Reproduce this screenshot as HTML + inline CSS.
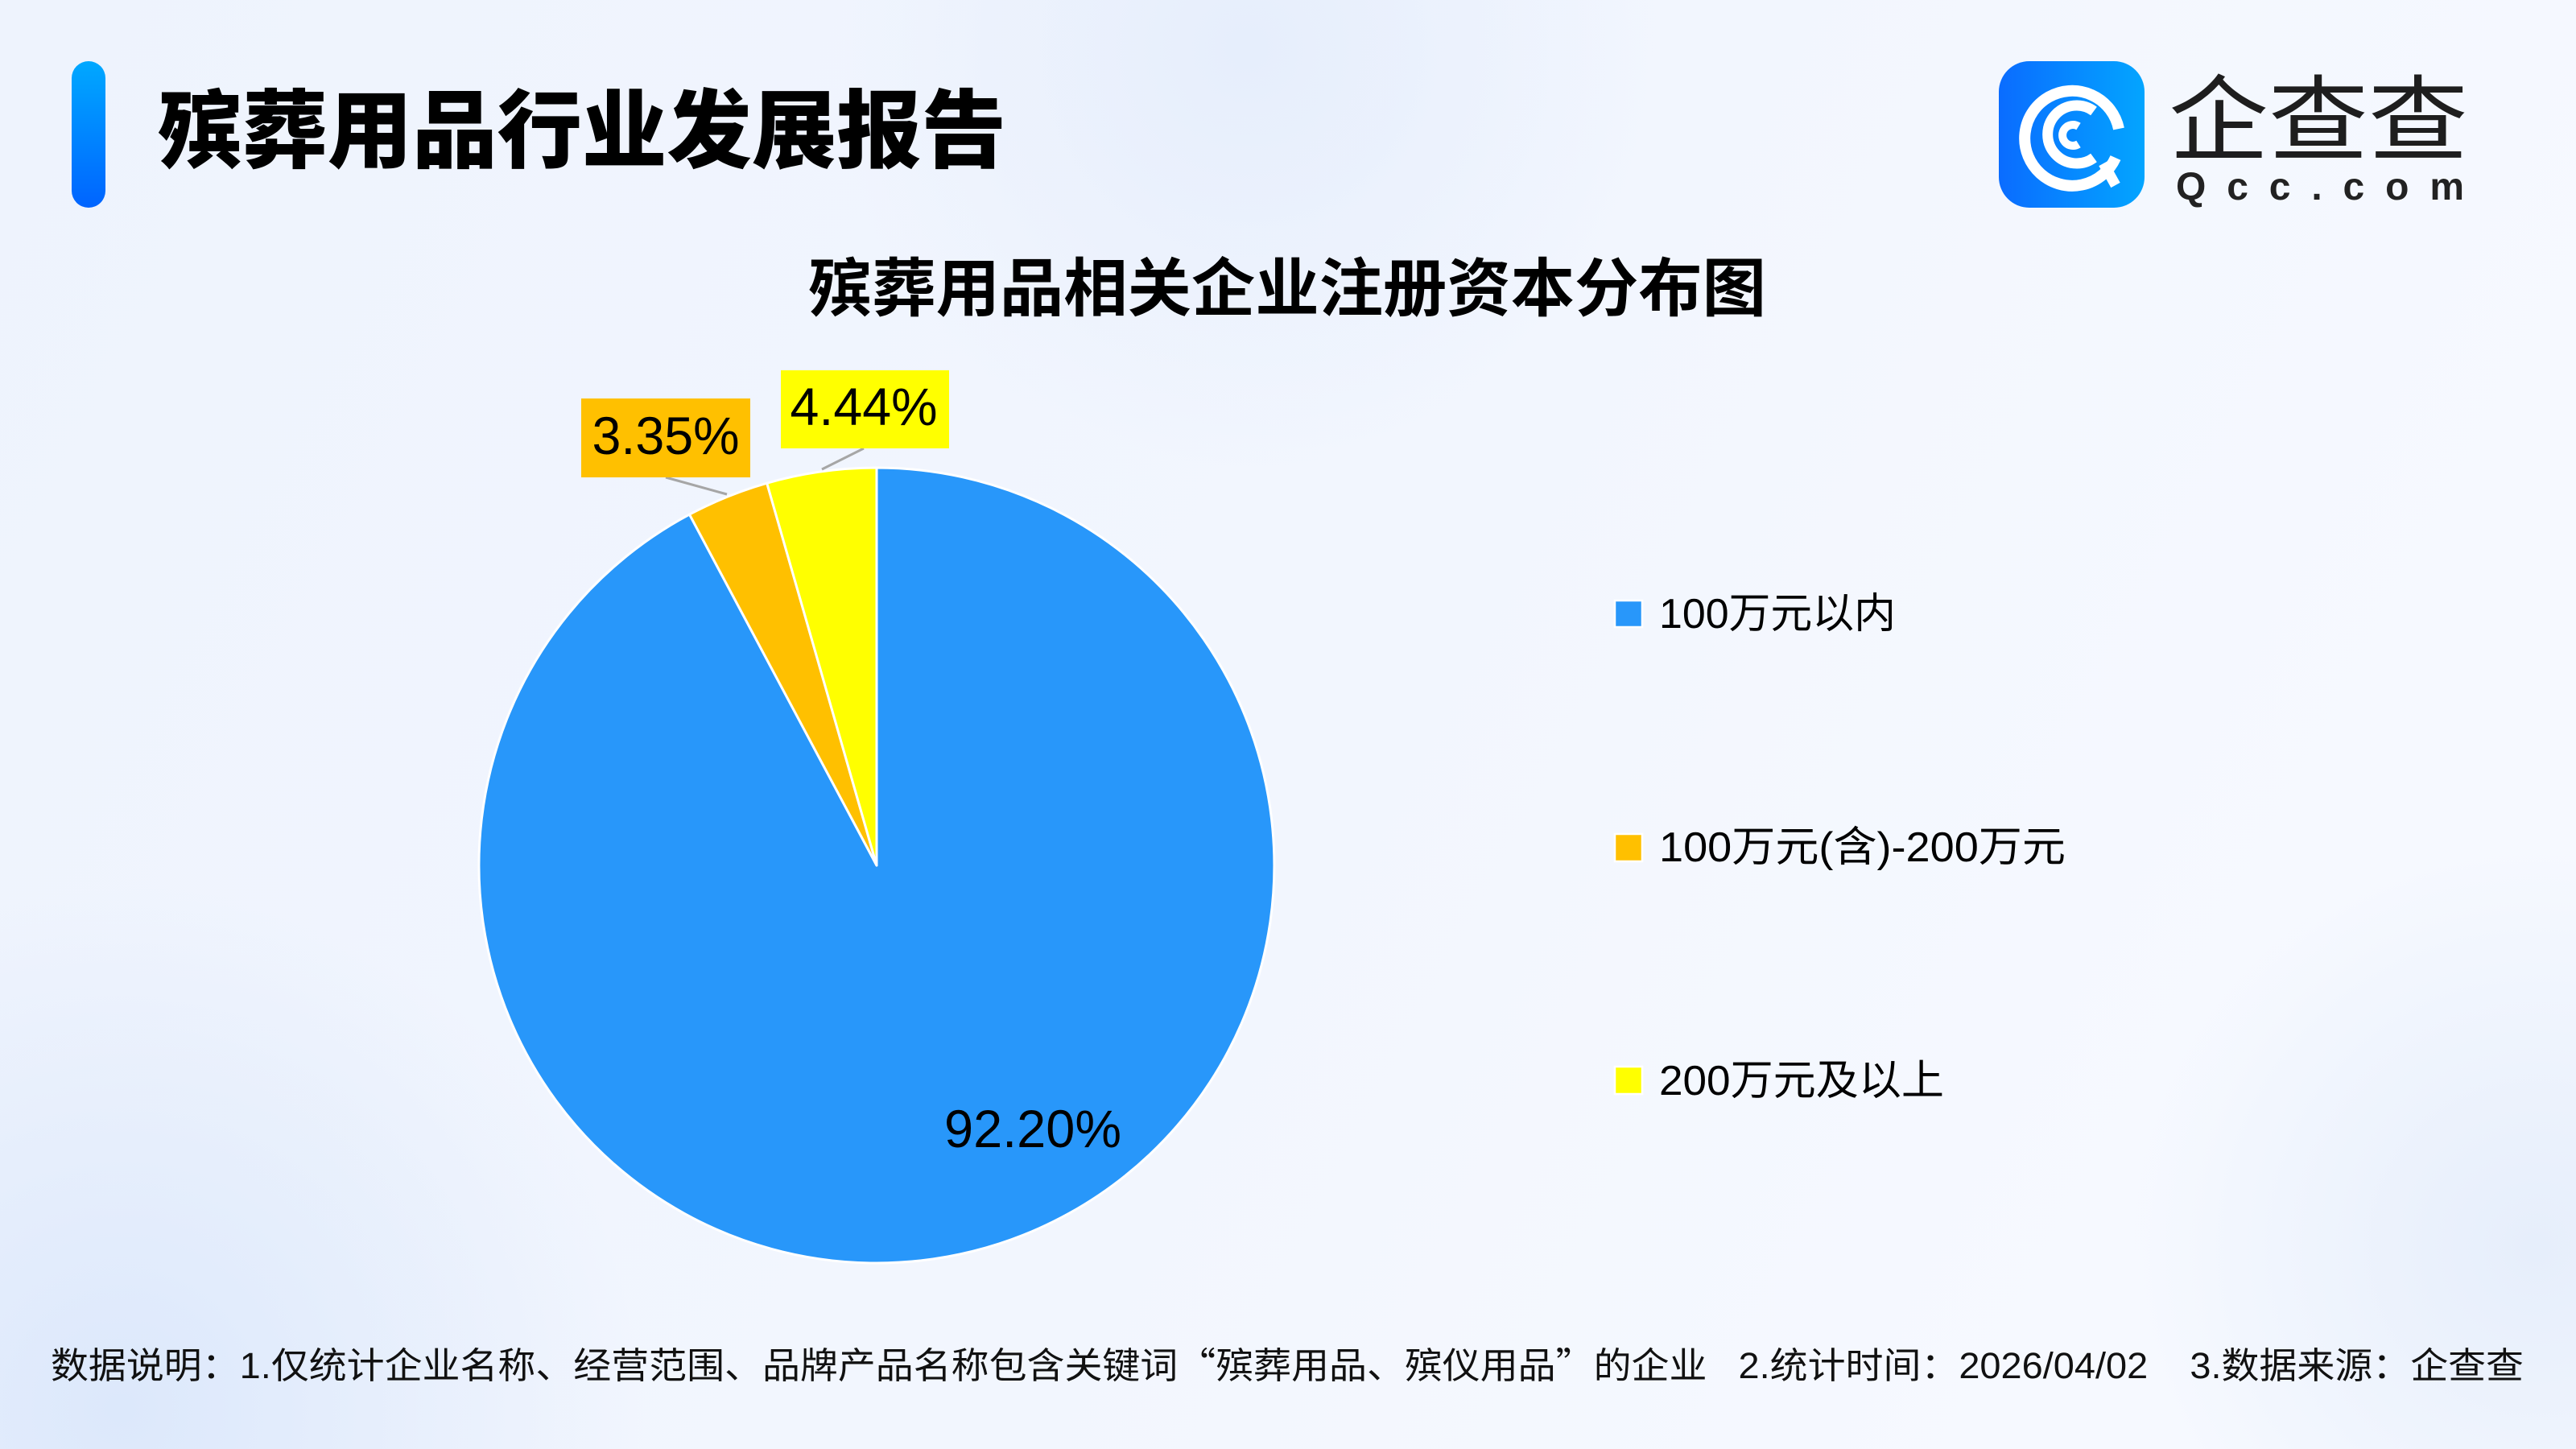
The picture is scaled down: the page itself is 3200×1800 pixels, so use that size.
<!DOCTYPE html>
<html>
<head>
<meta charset="utf-8">
<style>
html,body{margin:0;padding:0;}
body{width:3200px;height:1800px;overflow:hidden;background:#F0F5FE;}
svg{display:block;}
text{font-family:"Liberation Sans","Noto Sans CJK SC",sans-serif;}
.cjk{font-family:"Noto Sans CJK SC","WenQuanYi Zen Hei",sans-serif;}
</style>
</head>
<body>
<svg width="3200" height="1800" viewBox="0 0 3200 1800" xmlns="http://www.w3.org/2000/svg">
  <defs>
    <linearGradient id="bg" x1="0" y1="0" x2="1" y2="0.3">
      <stop offset="0" stop-color="#EEF3FD"/>
      <stop offset="0.6" stop-color="#F2F6FE"/>
      <stop offset="1" stop-color="#F6F9FF"/>
    </linearGradient>
    <radialGradient id="blob1" cx="1550" cy="60" r="520" gradientUnits="userSpaceOnUse">
      <stop offset="0" stop-color="#E6EEFC" stop-opacity="1"/>
      <stop offset="1" stop-color="#E6EEFC" stop-opacity="0"/>
    </radialGradient>
    <radialGradient id="blob2" cx="150" cy="1750" r="650" gradientUnits="userSpaceOnUse">
      <stop offset="0" stop-color="#DCE8FB" stop-opacity="1"/>
      <stop offset="1" stop-color="#DCE8FB" stop-opacity="0"/>
    </radialGradient>
    <radialGradient id="blob3" cx="3150" cy="1550" r="500" gradientUnits="userSpaceOnUse">
      <stop offset="0" stop-color="#E6EEFB" stop-opacity="1"/>
      <stop offset="1" stop-color="#E6EEFB" stop-opacity="0"/>
    </radialGradient>
    <linearGradient id="bar" x1="0" y1="0" x2="0" y2="1">
      <stop offset="0" stop-color="#00A8FF"/>
      <stop offset="1" stop-color="#0064FF"/>
    </linearGradient>
    <linearGradient id="logo" x1="0" y1="0" x2="1" y2="0">
      <stop offset="0" stop-color="#0A6CFF"/>
      <stop offset="1" stop-color="#03A5FF"/>
    </linearGradient>
  </defs>

  <!-- background -->
  <rect x="0" y="0" width="3200" height="1800" fill="url(#bg)"/>
  <rect x="0" y="0" width="3200" height="1800" fill="url(#blob1)"/>
  <rect x="0" y="0" width="3200" height="1800" fill="url(#blob2)"/>
  <rect x="0" y="0" width="3200" height="1800" fill="url(#blob3)"/>

  <!-- header bar + title -->
  <rect x="89" y="76" width="42" height="182" rx="21" ry="21" fill="url(#bar)"/>
  <text class="cjk" x="196" y="200" font-size="106" font-weight="900" fill="#000" textLength="1054" lengthAdjust="spacingAndGlyphs">殡葬用品行业发展报告</text>

  <!-- logo -->
  <rect x="2483" y="76" width="181" height="182" rx="38" ry="38" fill="url(#logo)"/>
  <g fill="none" stroke="#fff" stroke-linecap="butt">
    <path d="M 2628 196 A 59 59 0 1 1 2632 160" stroke-width="14"/>
    <path d="M 2601 196 A 36 36 0 1 1 2601 138" stroke-width="13"/>
    <path d="M 2582 179 A 13 13 0 1 1 2582 157" stroke-width="10"/>
    <path d="M 2613 203 L 2628 230" stroke-width="13"/>
  </g>
  <text class="cjk" x="2694" y="190" font-size="116" font-weight="400" fill="#1E1E1E" textLength="372" lengthAdjust="spacingAndGlyphs">企查查</text>
  <text x="2703" y="248" font-size="48" font-weight="700" fill="#222" textLength="358" lengthAdjust="spacing">Qcc.com</text>

  <!-- chart title -->
  <text class="cjk" x="1004" y="386" font-size="79" font-weight="700" fill="#000" textLength="1190" lengthAdjust="spacingAndGlyphs">殡葬用品相关企业注册资本分布图</text>

  <!-- pie -->
  <g stroke="#FFFFFF" stroke-width="3" stroke-linejoin="round">
    <path d="M 1089 1075 L 1089 581 A 494 494 0 1 1 856.5 639.1 Z" fill="#2897FA"/>
    <path d="M 1089 1075 L 856.5 639.1 A 494 494 0 0 1 952.7 600.2 Z" fill="#FFC000"/>
    <path d="M 1089 1075 L 952.7 600.2 A 494 494 0 0 1 1089 581 Z" fill="#FFFF00"/>
  </g>

  <!-- leader lines -->
  <line x1="827" y1="593" x2="903" y2="614" stroke="#A6A6A6" stroke-width="3"/>
  <line x1="1073" y1="557" x2="1021" y2="583" stroke="#A6A6A6" stroke-width="3"/>

  <!-- data labels -->
  <rect x="722" y="495" width="210" height="98" fill="#FFC000"/>
  <text x="827" y="564" font-size="66" fill="#000" text-anchor="middle" textLength="183" lengthAdjust="spacingAndGlyphs">3.35%</text>
  <rect x="970" y="460" width="209" height="97" fill="#FFFF00"/>
  <text x="1073" y="528" font-size="66" fill="#000" text-anchor="middle" textLength="183" lengthAdjust="spacingAndGlyphs">4.44%</text>
  <text x="1283" y="1425" font-size="66" fill="#000" text-anchor="middle" textLength="220" lengthAdjust="spacingAndGlyphs">92.20%</text>

  <!-- legend -->
  <rect x="2006" y="746" width="34" height="33" fill="#2897FA" stroke="#fff" stroke-width="2.5"/>
  <text x="2061" y="780" font-size="52" fill="#000" textLength="294" lengthAdjust="spacingAndGlyphs">100万元以内</text>

  <rect x="2006" y="1036" width="34" height="34" fill="#FFC000" stroke="#fff" stroke-width="2.5"/>
  <text x="2061" y="1070" font-size="52" fill="#000" textLength="505" lengthAdjust="spacingAndGlyphs">100万元(含)-200万元</text>

  <rect x="2006" y="1325" width="34" height="34" fill="#FFFF00" stroke="#fff" stroke-width="2.5"/>
  <text x="2061" y="1360" font-size="52" fill="#000" textLength="354" lengthAdjust="spacingAndGlyphs">200万元及以上</text>

  <!-- footer -->
  <text x="63" y="1712" font-size="45" fill="#111" textLength="3072" lengthAdjust="spacingAndGlyphs">数据说明：1.仅统计企业名称、经营范围、品牌产品名称包含关键词<tspan class="cjk">“</tspan>殡葬用品、殡仪用品<tspan class="cjk">”</tspan>的企业&#160;&#160;&#160;2.统计时间：2026/04/02&#160;&#160;&#160;&#160;3.数据来源：企查查</text>
</svg>
</body>
</html>
